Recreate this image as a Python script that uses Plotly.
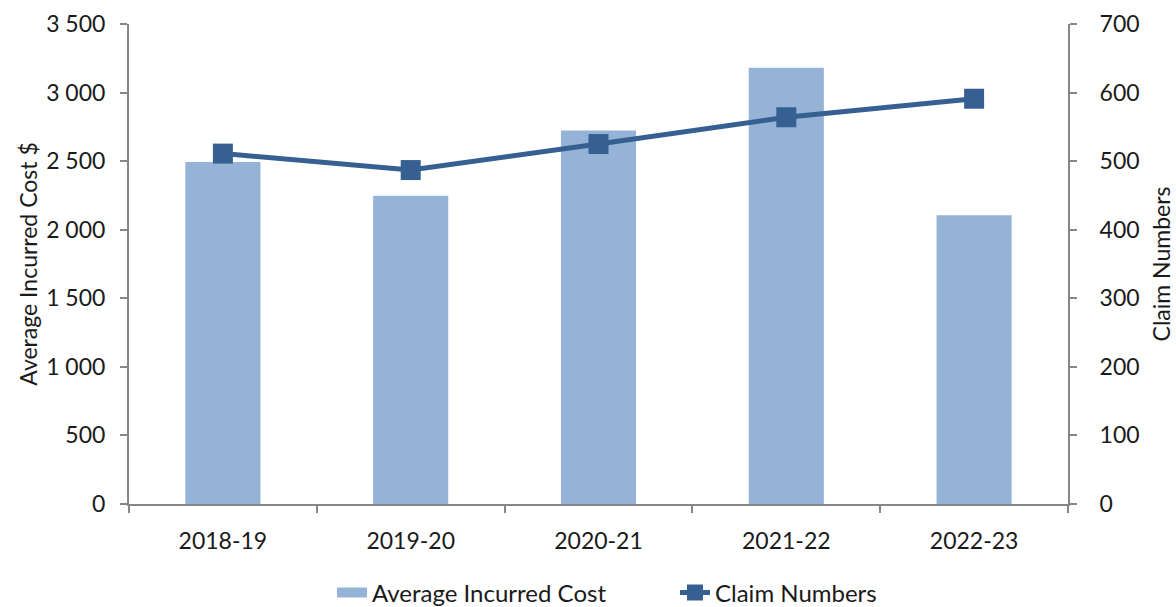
import plotly.graph_objects as go

categories = ["2018-19", "2019-20", "2020-21", "2021-22", "2022-23"]
avg_cost = [2493, 2247, 2724, 3181, 2106]
claim_numbers = [511, 487, 525, 564, 591]

FONT = "Lato"
AXIS_COLOR = "#868686"
BAR_COLOR = "#95B3D7"
LINE_COLOR = "#376092"
FS = 23

fig = go.Figure()
fig.add_trace(go.Bar(
    x=categories, y=avg_cost, name="Average Incurred Cost",
    marker=dict(color=BAR_COLOR, line=dict(width=0)), width=0.4, yaxis="y",
    showlegend=False,
))
# legend entry for the bars, drawn as a wide block like the reference
fig.add_trace(go.Scatter(
    x=[None], y=[None], name="Average Incurred Cost", mode="lines",
    line=dict(color=BAR_COLOR, width=15), yaxis="y", legendrank=1,
))
fig.add_trace(go.Scatter(
    x=categories, y=claim_numbers, name="Claim Numbers", mode="lines+markers",
    line=dict(color=LINE_COLOR, width=5),
    marker=dict(symbol="square", size=20, color=LINE_COLOR),
    yaxis="y2", legendrank=2,
))

fig.update_layout(
    width=1176, height=607,
    margin=dict(l=129, r=108, t=24, b=103),
    plot_bgcolor="white", paper_bgcolor="white",
    separators=". ",
    font=dict(family=FONT, size=FS, color="#1a1a1a"),
    showlegend=True,
    legend=dict(orientation="h", x=332 / 1176, xref="container", xanchor="left",
                y=14 / 607, yref="container", yanchor="middle",
                entrywidth=298, entrywidthmode="pixels",
                font=dict(size=24), traceorder="normal"),
    xaxis=dict(
        type="category", showline=True, linecolor=AXIS_COLOR, linewidth=2,
        ticks="outside", tickson="boundaries", ticklen=7, tickcolor=AXIS_COLOR, tickwidth=2,
        showgrid=False, tickfont=dict(size=FS), ticklabelstandoff=15, automargin=False,
    ),
    yaxis=dict(
        range=[0, 3500], dtick=500, tickformat=",d", showline=True, linecolor=AXIS_COLOR,
        linewidth=2, ticks="outside", ticklen=7, tickcolor=AXIS_COLOR, tickwidth=2,
        showgrid=False, zeroline=False, tickfont=dict(size=FS), ticklabelstandoff=10,
        automargin=False,
        title=dict(text="Average Incurred Cost $", font=dict(size=FS), standoff=2),
    ),
    yaxis2=dict(
        range=[0, 700], dtick=100, overlaying="y", side="right", showline=True,
        linecolor=AXIS_COLOR, linewidth=2, ticks="outside", ticklen=7,
        tickcolor=AXIS_COLOR, tickwidth=2, showgrid=False, zeroline=False,
        tickfont=dict(size=FS), ticklabelstandoff=18, automargin=False,
        title=dict(text="Claim Numbers", font=dict(size=FS), standoff=15),
    ),
)

fig.write_html("out.html")
